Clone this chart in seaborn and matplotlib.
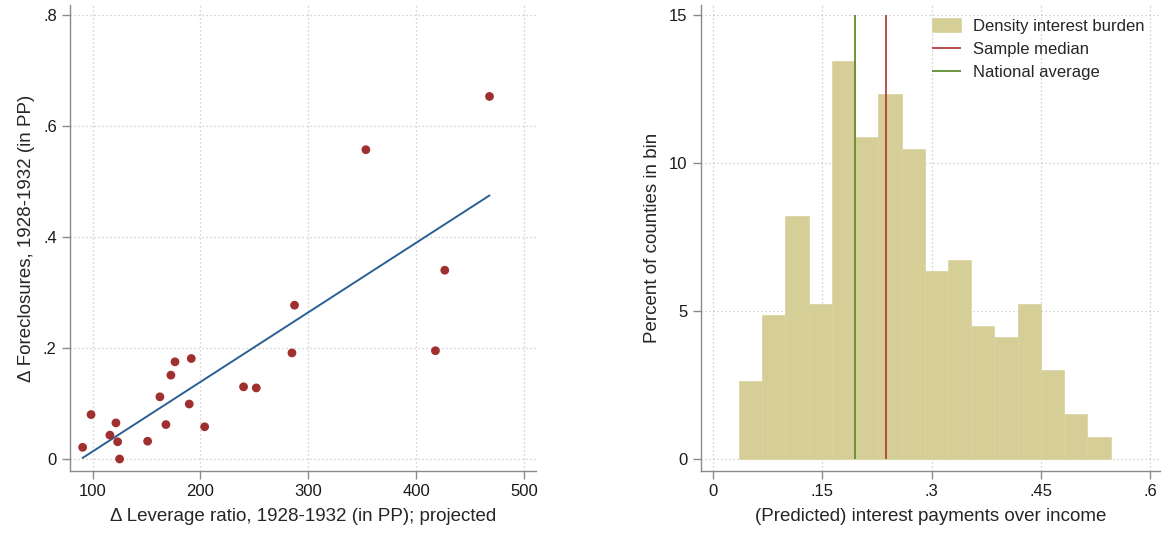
# imports
import numpy as np
import pandas as pd
import matplotlib.pyplot as plt
import seaborn as sns

# Left panel: county changes 1928-1932
leverage_change = [90.7, 98.5, 121.6, 116.0, 123.2, 125.0, 151.0, 162.4, 168.0, 172.6, 176.4,
                   191.5, 189.6, 203.9, 240.0, 251.8, 287.3, 284.9, 353.5, 418.0, 426.7, 468.2]
foreclosure_change = [0.021, 0.080, 0.065, 0.043, 0.031, 0.000, 0.032, 0.112, 0.062, 0.151, 0.175,
                      0.181, 0.099, 0.058, 0.130, 0.128, 0.277, 0.191, 0.557, 0.195, 0.340, 0.653]

# Right panel: histogram of predicted interest burden
bin_edges = [0.0353 + 0.0319 * i for i in range(17)]
percent_in_bin = [2.65, 4.88, 8.21, 5.24, 13.45, 10.86, 12.33, 10.47,
                  6.35, 6.72, 4.49, 4.12, 5.24, 3.01, 1.52, 0.74]
sample_median = 0.2373
national_average = 0.1942

left_ticks_x = [100, 200, 300, 400, 500]
left_ticks_y = [0, 0.2, 0.4, 0.6, 0.8]
left_labels_y = ['0', '.2', '.4', '.6', '.8']
right_ticks_x = [0, 0.15, 0.3, 0.45, 0.6]
right_labels_x = ['0', '.15', '.3', '.45', '.6']
right_ticks_y = [0, 5, 10, 15]

sns.set_style('white')
plt.rcParams['font.family'] = ['Liberation Sans', 'DejaVu Sans']

spine_grey = '#8a8a8a'
grid_style = dict(color='#c4c4c4', linestyle=(0, (1, 2.2)), linewidth=0.9)

fig = plt.figure(figsize=(11.67, 5.34), dpi=100)
ax1 = fig.add_axes([0.060, 0.118, 0.399, 0.873])
ax2 = fig.add_axes([0.6004, 0.118, 0.3936, 0.873])

# scatter with linear fit
scatter_df = pd.DataFrame({'lev': leverage_change, 'fc': foreclosure_change})
sns.regplot(data=scatter_df, x='lev', y='fc', ci=None, scatter=False, ax=ax1,
            line_kws=dict(color='#2a6094', linewidth=1.4))
sns.scatterplot(data=scatter_df, x='lev', y='fc', ax=ax1, color='#a0302f',
                s=40, edgecolor='none', zorder=3)
ax1.set_xlim(79, 511)
ax1.set_ylim(-0.0216, 0.818)
ax1.set_xticks(left_ticks_x)
ax1.set_yticks(left_ticks_y)
ax1.set_yticklabels(left_labels_y)
ax1.set_xlabel('Δ Leverage ratio, 1928-1932 (in PP); projected', fontsize=13.5, labelpad=6)
ax1.set_ylabel('Δ Foreclosures, 1928-1932 (in PP)', fontsize=13.5, labelpad=6)

# histogram with reference lines
centers = [(a + b) / 2 for a, b in zip(bin_edges[:-1], bin_edges[1:])]
sns.histplot(x=centers, weights=percent_in_bin, bins=bin_edges, ax=ax2,
             color='#d5cf97', alpha=1, edgecolor='#d9d3a0', linewidth=0.5,
             label='Density interest burden', zorder=2)
ax2.vlines(sample_median, 0, 15, color='#b3413d', linewidth=1.3, label='Sample median', zorder=3)
ax2.vlines(national_average, 0, 15, color='#5e8c2f', linewidth=1.3, label='National average', zorder=3)
ax2.set_xlim(-0.0173, 0.6136)
ax2.set_ylim(-0.405, 15.34)
ax2.set_xticks(right_ticks_x)
ax2.set_xticklabels(right_labels_x)
ax2.set_yticks(right_ticks_y)
ax2.set_xlabel('(Predicted) interest payments over income', fontsize=13.5, labelpad=6)
ax2.set_ylabel('Percent of counties in bin', fontsize=13.5, labelpad=6)

# legend order: histogram first, then the two lines
handles, labels = ax2.get_legend_handles_labels()
order = [labels.index('Density interest burden'), labels.index('Sample median'),
         labels.index('National average')]
ax2.legend([handles[i] for i in order], [labels[i] for i in order],
           loc='upper right', frameon=False, fontsize=12, handlelength=1.75,
           handleheight=0.9, handletextpad=0.7, borderaxespad=0.4, labelspacing=0.45,
           bbox_to_anchor=(0.995, 1.0))

for ax in (ax1, ax2):
    ax.grid(True, **grid_style)
    ax.set_axisbelow(True)
    for side in ('top', 'right'):
        ax.spines[side].set_visible(False)
    for side in ('left', 'bottom'):
        ax.spines[side].set_color(spine_grey)
        ax.spines[side].set_linewidth(1.0)
    ax.tick_params(axis='both', direction='out', length=6, width=1.0, color=spine_grey,
                   labelsize=12, labelcolor='#1a1a1a', left=True, bottom=True)

fig.savefig('out.png', dpi=100)
